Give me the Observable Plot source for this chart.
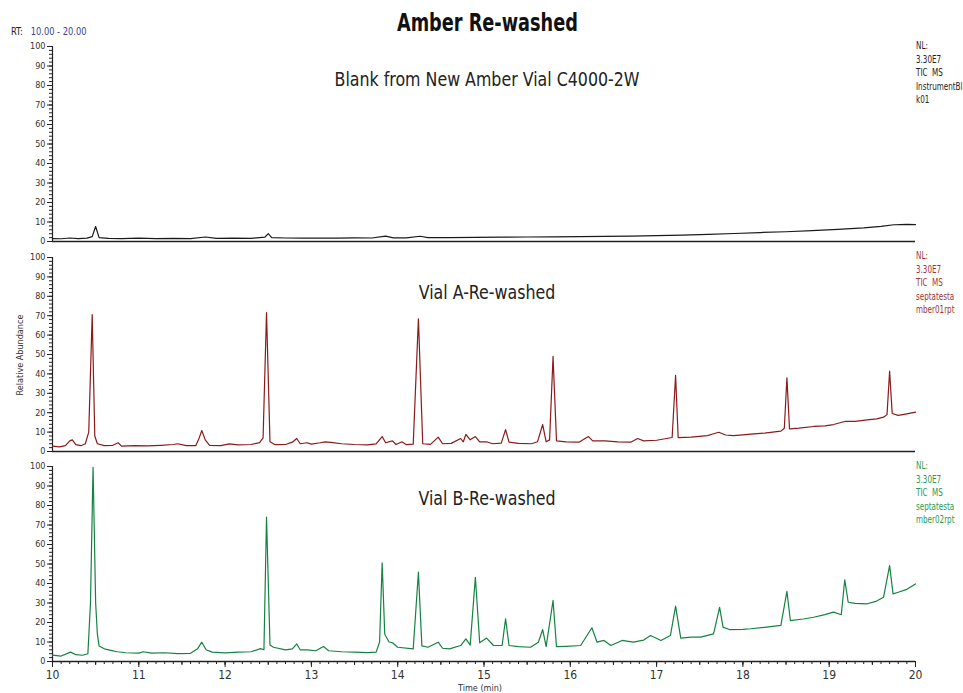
<!DOCTYPE html>
<html><head><meta charset="utf-8">
<script src="https://cdn.jsdelivr.net/npm/d3@7"></script>
<script src="https://cdn.jsdelivr.net/npm/@observablehq/plot@0.6"></script>
<style>
body{margin:0;background:#fff;}
#wrap{position:relative;width:963px;height:693px;overflow:hidden;font-family:"Liberation Sans Narrow","DejaVu Sans Condensed","Roboto Condensed",sans-serif;}
.abs{position:absolute;white-space:pre;}
.panel{position:absolute;left:0;}
.panel svg{font-family:"Liberation Sans Narrow","DejaVu Sans Condensed",sans-serif;}
</style></head>
<body><div id="wrap"></div>
<script>
// ---- data ----
const blankT = [10.00,10.10,10.20,10.30,10.40,10.46,10.50,10.54,10.65,10.80,11.00,11.20,11.40,11.60,11.77,11.90,12.10,12.30,12.46,12.50,12.54,12.70,12.90,13.10,13.30,13.50,13.70,13.86,13.95,14.10,14.26,14.35,14.60,14.90,15.20,15.50,15.80,16.10,16.40,16.70,17.00,17.30,17.60,17.90,18.20,18.50,18.80,19.10,19.40,19.60,19.75,19.90,20.00];
const blankY = [1.5,1.4,1.8,1.5,1.7,2.5,7.7,2.0,1.6,1.5,1.7,1.5,1.6,1.5,2.3,1.6,1.7,1.6,2.2,4.0,2.0,1.8,1.7,1.8,1.7,1.9,1.8,2.8,1.9,1.9,2.7,2.0,2.0,2.1,2.2,2.3,2.4,2.5,2.6,2.8,3.0,3.3,3.7,4.1,4.6,5.0,5.6,6.2,7.0,7.8,8.6,8.8,8.7];

const vialAT = [10.00,10.08,10.15,10.20,10.23,10.27,10.33,10.38,10.42,10.46,10.49,10.52,10.60,10.70,10.76,10.80,10.95,11.10,11.25,11.40,11.45,11.55,11.66,11.70,11.73,11.77,11.82,11.95,12.05,12.15,12.30,12.40,12.44,12.48,12.52,12.58,12.70,12.78,12.83,12.87,12.95,13.00,13.10,13.16,13.25,13.35,13.50,13.65,13.75,13.82,13.86,13.94,13.98,14.05,14.10,14.18,14.24,14.29,14.38,14.47,14.52,14.62,14.73,14.76,14.79,14.84,14.90,14.95,15.03,15.10,15.20,15.25,15.29,15.40,15.55,15.62,15.68,15.72,15.76,15.80,15.84,15.95,16.10,16.21,16.26,16.40,16.55,16.70,16.78,16.85,17.00,17.18,17.22,17.25,17.40,17.59,17.65,17.72,17.80,17.89,18.00,18.09,18.25,18.44,18.48,18.51,18.54,18.65,18.82,18.95,19.05,19.19,19.30,19.44,19.55,19.63,19.67,19.70,19.73,19.80,19.90,20.00];
const vialAY = [2.8,2.4,3.0,5.5,6.0,3.5,3.0,4.0,10,70.6,8,4,3.0,3.2,4.5,2.8,3.0,2.9,3.2,3.6,4.0,3.0,3.0,7,10.8,6,3.2,3.0,3.9,3.4,3.6,4.6,7,71.6,5,3.5,3.6,4.8,6.7,4,4.5,3.8,4.5,5,4.6,4.0,3.6,3.4,3.9,7.7,4.5,5.5,3.6,5,3.5,3.8,68.4,4.0,3.7,7.4,4,4.2,6.7,5.0,8.8,6.0,7.7,5.0,5.0,4.0,4.3,11.3,4.8,4.2,4.0,5.0,13.9,5,6,49,5.5,5.0,4.8,7.7,5.5,5.5,5.0,4.8,6.7,5.5,5.8,7.2,39.2,7.2,7.4,8.2,9.0,9.9,8.5,8.2,8.6,9.0,9.5,10.5,12,38,11.7,12.0,12.9,13.2,13.9,15.6,15.5,16.3,16.8,17.7,19,41.4,19.6,18.6,19.4,20.3];

const vialBT = [10.00,10.10,10.21,10.27,10.35,10.41,10.44,10.47,10.50,10.52,10.54,10.60,10.69,10.75,10.85,11.00,11.05,11.15,11.30,11.45,11.60,11.68,11.73,11.78,11.85,12.00,12.15,12.30,12.41,12.45,12.48,12.52,12.56,12.70,12.78,12.83,12.87,12.95,13.05,13.14,13.20,13.35,13.50,13.65,13.75,13.79,13.82,13.85,13.90,13.94,14.00,14.18,14.24,14.28,14.35,14.47,14.52,14.60,14.73,14.79,14.84,14.90,14.95,15.03,15.11,15.21,15.25,15.29,15.40,15.54,15.63,15.68,15.72,15.80,15.84,15.95,16.12,16.25,16.31,16.39,16.47,16.60,16.73,16.85,16.93,17.05,17.16,17.22,17.28,17.40,17.51,17.66,17.73,17.77,17.85,18.00,18.09,18.25,18.44,18.51,18.55,18.70,18.82,18.95,19.05,19.14,19.18,19.22,19.30,19.44,19.55,19.63,19.70,19.74,19.80,19.90,20.00];
const vialBY = [3.3,2.8,4.8,3.5,3.2,4.0,30,99.6,30,14,8,6.5,5.6,5.0,4.5,4.3,5.0,4.3,4.5,4.0,4.2,6.5,9.9,6,4.8,4.4,4.8,5.0,6.6,6.0,74,8.5,7.3,6.0,6.5,9,6,6.0,5.5,7.7,5.5,5.0,4.8,4.6,4.8,10,50.6,14,10,9.6,7.3,6.5,45.8,8,7.3,9.9,6.8,6.5,8.2,11.6,8.4,43.2,9.6,12,8.2,8.2,21.9,8.2,7.6,7.3,9.9,16.4,7.6,31.3,7.6,7.8,8.2,17.3,9.9,10.8,8.2,10.8,9.9,11,13.3,10.8,13.3,28.4,12,12.5,12.5,14.2,27.8,17.6,16.3,16.5,16.8,17.5,18.5,36,21,21.8,22.7,24,25.3,24,41.9,30.4,29.8,29.6,31,33,49.2,34.7,35.5,37,39.8];

const panelTitles = ["Blank from New Amber Vial C4000-2W","Vial A-Re-washed","Vial B-Re-washed"];
const sideLabels = ["NL:\n3.30E7\nTIC  MS\nInstrumentBl\nk01","NL:\n3.30E7\nTIC  MS\nseptatesta\nmber01rpt","NL:\n3.30E7\nTIC  MS\nseptatesta\nmber02rpt"];
const xTicks = [10,11,12,13,14,15,16,17,18,19,20];
const yTicks = [0,10,20,30,40,50,60,70,80,90,100];

// ---- layout ----
const wrap = document.getElementById("wrap");
function addText(txt, css){const d=document.createElement("div");d.className="abs";d.textContent=txt;Object.assign(d.style,css);wrap.appendChild(d);return d;}

addText("Amber Re-washed",{left:"0",width:"975px",textAlign:"center",top:"9px",fontSize:"24px",fontWeight:"bold",color:"#111",transform:"scaleX(0.82)",transformOrigin:"487px 0"});
const rt = document.createElement("div");rt.className="abs";rt.style.left="11px";rt.style.top="26px";rt.style.fontSize="10px";
rt.style.transform="scaleX(0.92)";rt.style.transformOrigin="0 0";
rt.innerHTML='<span style="color:#222">RT:</span>&nbsp;&nbsp;&nbsp;<span style="color:#3a3f9a">10.00 - 20.00</span>';
wrap.appendChild(rt);

const panels = [
  {T:blankT,Y:blankY,color:"#1a1a1a",text:"#222",top:36,h:215,mb:10,xaxis:false},
  {T:vialAT,Y:vialAY,color:"#8a1a1c",text:"#a03535",top:247,h:214,mb:10,xaxis:false},
  {T:vialBT,Y:vialBY,color:"#168242",text:"#2a9a52",top:456,h:237,mb:32,xaxis:true}
];
const titleTops=[67,280,486];
const sideTops=[39,249,459];

panels.forEach((p,i)=>{
  const rows = p.T.map((t,k)=>({t, a:p.Y[k]}));
  const marks = [
    Plot.axisY(d3.range(0,101,2),{tickSize:3,tickFormat:()=>"",label:null,stroke:"#222"}),
    Plot.axisY(yTicks,{tickSize:5,tickPadding:2,label:null,fontSize:9,fill:"#333",stroke:"#222"}),
    Plot.ruleX([10],{stroke:"#222",strokeWidth:1.2}),
    Plot.ruleY([0],{stroke:"#222",strokeWidth:1.5}),
    Plot.line(rows,{x:"t",y:"a",stroke:p.color,strokeWidth:1.2,curve:"linear"})
  ];
  if(p.xaxis){
    marks.unshift(
      Plot.axisX(d3.range(100,201,1).map(v=>v/10),{tickSize:3,tickFormat:()=>"",label:null,stroke:"#222"}),
      Plot.axisX(d3.range(10,20.01,0.5),{tickSize:4,tickFormat:()=>"",label:null,stroke:"#222"}),
      Plot.axisX(xTicks,{tickSize:6,tickPadding:3,label:null,fontSize:12,fill:"#333",stroke:"#222"})
    );
  }
  const svg = Plot.plot({
    width:963,height:p.h,
    marginLeft:52,marginRight:48,marginTop:10,marginBottom:p.mb,
    x:{domain:[10,20],axis:null},
    y:{domain:[0,100],axis:null},
    marks
  });
  const div=document.createElement("div");div.className="panel";div.style.top=p.top+"px";div.appendChild(svg);wrap.appendChild(div);
  addText(panelTitles[i],{left:"0",width:"974px",textAlign:"center",top:titleTops[i]+"px",fontSize:"20px",color:"#222",transform:"scaleX(0.88)",transformOrigin:"487px 0"});
  addText(sideLabels[i],{left:"916px",top:sideTops[i]+"px",fontSize:"10px",lineHeight:"13.6px",color:p.text,transform:"scaleX(0.8)",transformOrigin:"0 0"});
});
addText("Time (min)",{left:"0",width:"960px",textAlign:"center",top:"683px",fontSize:"9px",color:"#333"});
addText("Relative Abundance",{left:"-25px",top:"350px",fontSize:"9px",color:"#333",transform:"rotate(-90deg)",width:"90px",textAlign:"center"});
</script>
</body></html>
